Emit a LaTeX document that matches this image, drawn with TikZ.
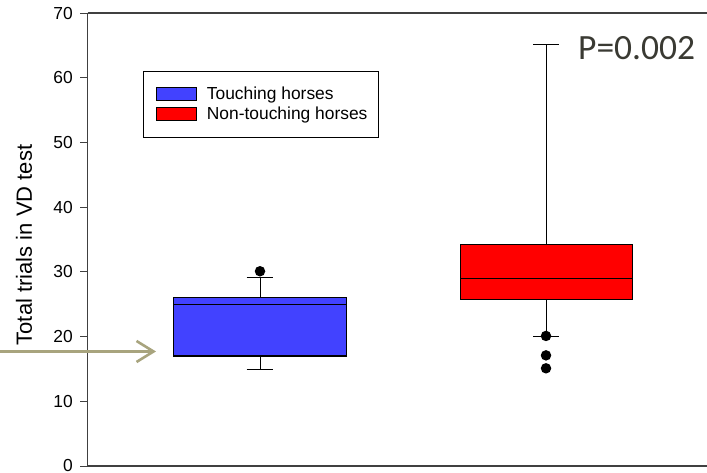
\documentclass[tikz,border=0pt]{standalone}
\usepackage{fontspec}
\setmainfont{Liberation Sans}
\newfontfamily\carlito{Carlito}
\usetikzlibrary{arrows.meta,positioning}
\definecolor{touchblue}{HTML}{4242FF}
\definecolor{khaki}{HTML}{A8A47E}
\definecolor{ptext}{HTML}{3A3A33}

\begin{document}
\begin{tikzpicture}[x=1pt, y=1pt,
    box/.style={draw=black, fill=#1, line width=1.2pt},
    box/.default=touchblue,
    whisk/.style={draw=black, line width=0.9pt},
    dot/.style={circle, fill=black, inner sep=0pt, minimum size=10.5pt},
    axis/.style={draw=black!75, line width=1.3pt},
    ticklbl/.style={font=\fontsize{17.4}{17.4}\selectfont, anchor=east, inner sep=0pt},
    lbl/.style={font=\fontsize{17.4}{17.4}\selectfont, anchor=base west, inner sep=0pt},
    arr/.style={-{Straight Barb[length=17pt, width=21pt]}, draw=khaki, line width=2.6pt}
]
    \useasboundingbox (0,0) rectangle (707,472);

    \begin{scope}[yshift=6pt, y=6.47pt]
    % Axes
    \draw[axis] (87.7,70) -- (707,70);
    \draw[axis, line width=1.8pt] (87.7,0) -- (707,0);
    \draw[axis] (87.7,0) -- (87.7,70);
    \foreach \v in {0,10,...,70} {
        \draw[axis, line width=1pt] (80,\v) -- (87.7,\v);
        \node[ticklbl] (tick\v) at (73,\v) {\v};
    }

    % Touching horses
    \draw[whisk] (260,26) -- (260,29.2);
    \draw[whisk] (246.7,29.2) -- (273.3,29.2);
    \draw[whisk] (260,17) -- (260,15);
    \draw[whisk] (246.7,15) -- (273.3,15);
    \draw[box=touchblue] (173.7,17) rectangle (346.3,26);
    \draw[whisk, line width=1.2pt] (173.7,25) -- (346.3,25);
    \node[dot] (touchout) at (260,30.1) {};

    % Non-touching horses
    \draw[whisk] (546,34.3) -- (546,65.1);
    \draw[whisk] (533.3,65.1) -- (559.3,65.1);
    \draw[whisk] (546,25.7) -- (546,20.1);
    \draw[whisk] (533.3,20.1) -- (559.3,20.1);
    \draw[box=red, line width=0.9pt] (460,25.7) rectangle (632.3,34.3);
    \draw[whisk] (460,29.05) -- (632.3,29.05);
    \foreach \v/\n in {20.1/a, 17.1/b, 15.1/c}
        \node[dot] (nonout\n) at (546,\v) {};

    % Arrow
    \coordinate (arrowtail) at (0,17.7);
    \coordinate (arrowtip) at (156,17.7);
    \draw[arr] (arrowtail) -- (arrowtip);
    \end{scope}

    % Legend
    \draw[black, line width=0.8pt] (143.3,334.7) rectangle (378.3,401);
    \draw[box=touchblue, line width=0.8pt] (156,371.3) rectangle (196.7,384.7);
    \draw[box=red, line width=0.8pt] (156,351.3) rectangle (196.7,364.7);
    \node[lbl] (legtouch) at (206.7,372) {Touching horses};
    \node[lbl] (legnon) at (206.7,352) {Non-touching horses};

    % Labels
    \node[rotate=90, font=\fontsize{22}{22}\selectfont, inner sep=0pt] (ylabel) at (24,227) {Total trials in VD test};
    \node[font=\carlito\fontsize{35.5}{35.5}\selectfont, text=ptext, anchor=base west, inner sep=0pt] (pval) at (578,412.5) {P=0.002};
\end{tikzpicture}
\end{document}
